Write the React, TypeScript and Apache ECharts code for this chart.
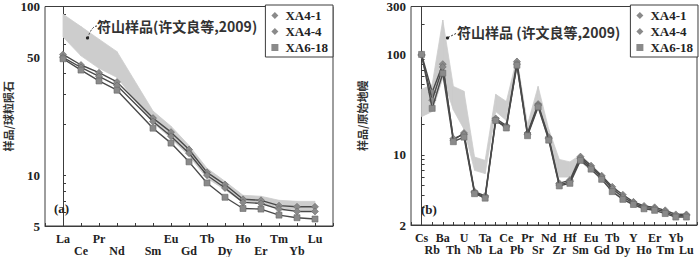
import React, { useEffect, useRef } from "react";
import * as echarts from "echarts";

// ---------- Data ----------
const REE = ["La", "Ce", "Pr", "Nd", "Pm", "Sm", "Eu", "Gd", "Tb", "Dy", "Ho", "Er", "Tm", "Yb", "Lu"];
const reeXA41 = [52, 45, 40.5, 35.7, null, 21.8, 18.0, 14.2, 10.4, 8.8, 7.2, 7.1, 6.6, 6.5, 6.5];
const reeXA44 = [50, 43.5, 38.5, 34, null, 20.8, 17.0, 13.5, 10.0, 8.4, 6.9, 6.8, 6.3, 6.1, 6.1];
const reeXA618 = [49, 42, 36.2, 31.9, null, 19.0, 15.5, 12.0, 9.0, 7.4, 6.35, 6.3, 5.8, 5.6, 5.5];
const reeBandLow = [66, 51, 43, 38, null, 20.5, 16.5, 13, 9.6, 8.2, 6.9, 6.9, 6.4, 6.2, 6.2];
const reeBandHigh = [90, 76, 64, 54, null, 24, 19.5, 15, 11, 9.2, 7.6, 7.5, 7.1, 7.0, 7.0];

const SPIDER = ["Cs", "Rb", "Ba", "Th", "U", "Nb", "Ta", "La", "Ce", "Pb", "Pr", "Sr", "Nd", "Zr", "Hf", "Sm", "Eu", "Gd", "Tb", "Dy", "Y", "Ho", "Er", "Tm", "Yb", "Lu"];
const spXA41 = [100, 42, 80, 14, 16.5, 4.3, 3.9, 23, 19.5, 85, 16.5, 32, 15, 5.2, 5.6, 9.6, 7.8, 6.2, 4.8, 4.0, 3.4, 3.1, 3.0, 2.8, 2.55, 2.55];
const spXA44 = [98, 35, 75, 14.5, 16, 4.2, 3.8, 22, 19, 80, 16, 31, 14.5, 5.0, 5.4, 9.2, 7.5, 6.0, 4.6, 3.8, 3.3, 3.0, 2.9, 2.7, 2.45, 2.5];
const spXA618 = [100, 29, 65, 13.5, 15, 4.1, 3.7, 22, 18.5, 78, 15.5, 30, 14, 4.9, 5.2, 8.8, 7.2, 5.7, 4.3, 3.6, 3.2, 2.9, 2.8, 2.6, 2.4, 2.4];
const spBandLow = [24, 27, 58, 28, 18, 7, 6.5, 27, 22, 72, 16, 29, 14, 6, 6, 8.5, 7, 5.6, 4.3, 3.6, 3.1, 2.9, 2.8, 2.6, 2.4, 2.4];
const spBandHigh = [45, 50, 220, 48, 43, 9.5, 8.8, 40, 34, 92, 20, 48, 18, 9, 8.5, 10, 8, 6.3, 4.8, 4.0, 3.4, 3.1, 3.0, 2.8, 2.6, 2.6];

const SERIES_NAMES = ["XA4-1", "XA4-4", "XA6-18"];
const SYMBOLS = ["diamond", "diamond", "rect"];

const leftYLabels = [5, 10, 50, 100];
const leftYTicks = [5, 6, 7, 8, 9, 10, 20, 30, 40, 50, 60, 70, 80, 90, 100];
const rightYLabels = [2, 10, 100, 300];
const rightYTicks = [2, 3, 4, 5, 6, 7, 8, 9, 10, 20, 30, 40, 50, 60, 70, 80, 90, 100, 200, 300];

const ANNOT_LEFT = "符山样品(许文良等,2009)";
const ANNOT_RIGHT = "符山样品 (许文良等,2009)";

// ---------- helpers ----------
const pairs = (arr: (number | null)[]) =>
  arr.map((v, i) => (v == null ? null : [i, v])).filter((p) => p != null) as number[][];
const bandTriples = (lo: (number | null)[], hi: (number | null)[]) =>
  lo.map((v, i) => (v == null || hi[i] == null ? null : [i, v, hi[i] as number])).filter((p) => p != null) as number[][];

const SERIF = "'Liberation Serif', 'DejaVu Serif', serif";
const CJK = "'Noto Sans CJK SC', sans-serif";
const AXIS_COLOR = "#3c3c3c";
const BAND_COLOR = "#cdcdcd";

function xAxis(gridIndex: number, names: string[]) {
  return {
    type: "value",
    gridIndex,
    min: -1,
    max: names.length,
    interval: 1,
    splitLine: { show: false },
    axisLine: { show: true, lineStyle: { color: AXIS_COLOR, width: 1 } },
    axisTick: { show: true, inside: true, length: 3, lineStyle: { color: AXIS_COLOR } },
    axisLabel: {
      margin: 7,
      color: "#222",
      fontFamily: SERIF,
      fontWeight: "bold",
      fontSize: 12,
      lineHeight: 12,
      showMinLabel: true,
      showMaxLabel: true,
      formatter: (v: number) => {
        const i = Math.round(v);
        if (i < 0 || i >= names.length) return "";
        const n = names[i] === "Pm" ? "" : names[i];
        return i % 2 === 1 ? "\n" + n : n;
      },
    },
  };
}

function yAxis(gridIndex: number, min: number, max: number, labels: number[], ticks: number[], name: string, nameGap: number) {
  return {
    type: "log",
    logBase: 10,
    gridIndex,
    min,
    max,
    name,
    nameLocation: "middle",
    nameGap,
    nameTextStyle: { fontFamily: CJK, fontSize: 11, fontWeight: "bold", color: "#333" },
    splitLine: { show: false },
    minorTick: { show: false },
    axisLine: { show: true, lineStyle: { color: AXIS_COLOR, width: 1 } },
    axisTick: { show: true, inside: true, length: 3, customValues: ticks, lineStyle: { color: AXIS_COLOR } },
    axisLabel: {
      customValues: labels,
      margin: 5,
      color: "#222",
      fontFamily: SERIF,
      fontWeight: "bold",
      fontSize: 13,
    },
  };
}

function mainSeries(gridIndex: number, datas: (number | null)[][]) {
  return datas.map((d, k) => ({
    type: "line",
    name: SERIES_NAMES[k],
    xAxisIndex: gridIndex,
    yAxisIndex: gridIndex,
    data: pairs(d),
    symbol: SYMBOLS[k],
    symbolSize: k === 2 ? 6 : 7,
    showSymbol: true,
    z: 5 + k,
    itemStyle: { color: "#8a8a8a", borderColor: "#6a6a6a", borderWidth: 0.6 },
    lineStyle: { color: "#4a4a4a", width: 1.4 },
    emphasis: { disabled: true },
  }));
}

function bandSeries(gridIndex: number, lo: (number | null)[], hi: (number | null)[]) {
  const data = bandTriples(lo, hi);
  return {
    type: "custom",
    name: "band" + gridIndex,
    xAxisIndex: gridIndex,
    yAxisIndex: gridIndex,
    z: 1,
    silent: true,
    encode: { x: 0, y: [1, 2] },
    data,
    renderItem: (params: any, api: any) => {
      const i = params.dataIndex;
      if (i >= data.length - 1) return null;
      const a = data[i];
      const b = data[i + 1];
      const p1 = api.coord([a[0], a[2]]);
      const p2 = api.coord([b[0], b[2]]);
      const p3 = api.coord([b[0], b[1]]);
      const p4 = api.coord([a[0], a[1]]);
      return {
        type: "polygon",
        shape: { points: [p1, p2, p3, p4] },
        style: { fill: BAND_COLOR, stroke: BAND_COLOR, lineWidth: 0.8 },
      };
    },
  };
}

function legend(right: number) {
  return {
    orient: "vertical",
    right,
    top: 5,
    padding: [4, 5, 3, 6],
    itemGap: 3,
    itemWidth: 7,
    itemHeight: 7,
    borderColor: "#3c3c3c",
    borderWidth: 1,
    backgroundColor: "#fff",
    selectedMode: false,
    textStyle: { fontFamily: SERIF, fontWeight: "bold", fontSize: 13, color: "#222", padding: [0, 0, 0, 2] },
    itemStyle: { borderWidth: 0 },
    data: SERIES_NAMES.map((n, k) => ({ name: n, icon: SYMBOLS[k] })),
  };
}

export default function App() {
  const ref = useRef<HTMLDivElement>(null);
  useEffect(() => {
    if (!ref.current) return;
    const chart = echarts.init(ref.current, null, { renderer: "svg" });
    chart.setOption({
      animation: false,
      backgroundColor: "#fff",
      grid: [
        { left: 45, top: 5, width: 288, height: 221, show: true, borderColor: AXIS_COLOR, borderWidth: 1 },
        { left: 411, top: 5, width: 287, height: 220, show: true, borderColor: AXIS_COLOR, borderWidth: 1 },
      ],
      xAxis: [xAxis(0, REE), xAxis(1, SPIDER)],
      yAxis: [
        yAxis(0, 5, 100, leftYLabels, leftYTicks, "样品/球粒陨石", 32),
        yAxis(1, 2, 300, rightYLabels, rightYTicks, "样品/原始地幔", 44),
      ],
      legend: [legend(367), legend(2)],
      series: [
        bandSeries(0, reeBandLow, reeBandHigh),
        ...mainSeries(0, [reeXA41, reeXA44, reeXA618]),
        bandSeries(1, spBandLow, spBandHigh),
        ...mainSeries(1, [spXA41, spXA44, spXA618]),
      ],
      graphic: [
        { type: "text", left: 97, top: 19, z: 20, style: { text: ANNOT_LEFT, font: `bold 14px ${CJK}`, fill: "#333" } },
        {
          type: "bezierCurve",
          z: 20,
          shape: { x1: 97, y1: 26, cpx1: 92, cpy1: 26, x2: 88, y2: 37 },
          style: { stroke: "#333", lineWidth: 1, lineDash: [2, 1.5], fill: "none" },
        },
        { type: "circle", z: 20, shape: { cx: 87.5, cy: 38, r: 1.6 }, style: { fill: "#222" } },
        { type: "text", left: 457, top: 25, z: 20, style: { text: ANNOT_RIGHT, font: `bold 14px ${CJK}`, fill: "#333" } },
        {
          type: "line",
          z: 20,
          shape: { x1: 448, y1: 37.5, x2: 457, y2: 33 },
          style: { stroke: "#333", lineWidth: 1, lineDash: [2, 1.5] },
        },
        { type: "circle", z: 20, shape: { cx: 447.5, cy: 38, r: 1.6 }, style: { fill: "#222" } },
        { type: "text", left: 54, top: 202, z: 20, style: { text: "(a)", font: `bold 13px ${SERIF}`, fill: "#222" } },
        { type: "text", left: 421, top: 203, z: 20, style: { text: "(b)", font: `bold 13px ${SERIF}`, fill: "#222" } },
      ],
    });
    return () => chart.dispose();
  }, []);
  return <div ref={ref} style={{ position: "absolute", left: 0, top: 0, width: 700, height: 257 }} />;
}
